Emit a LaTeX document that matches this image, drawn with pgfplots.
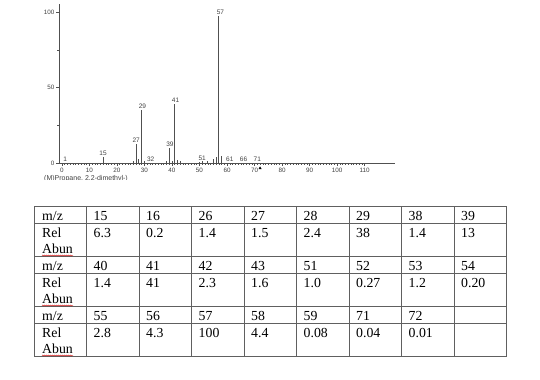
\documentclass[border=0pt]{standalone}
\usepackage{fontspec}
\setmainfont{Liberation Serif}
\setsansfont{Liberation Sans}
\usepackage{pgfplots}
\pgfplotsset{compat=1.18}
\usetikzlibrary{decorations.pathmorphing}
\definecolor{axcol}{HTML}{505050}
\definecolor{labcol}{HTML}{404040}
\definecolor{gridcol}{HTML}{606060}
\newcommand{\cell}[3]{\node[anchor=base west, inner sep=0pt, font=\fontsize{13.8bp}{16bp}\selectfont] at (#1,379-#2) {#3};}
\begin{document}
\begin{tikzpicture}[x=1bp,y=1bp]
\useasboundingbox (0,0) rectangle (540,379);
\begin{axis}[
  at={(59bp,216bp)}, anchor=south west,
  scale only axis, width=336bp, height=158.5bp,
  xmin=-1, xmax=121, ymin=0, ymax=105,
  axis x line=bottom, axis y line=left,
  axis line style={-, draw=axcol, line width=0.7pt},
  xtick={0,10,...,110}, minor x tick num=9,
  ytick={0,50,100}, minor y tick num=1,
  tick align=outside, major tick length=3bp, minor tick length=2bp,
  tick style={draw=axcol, line width=0.45pt},
  ticklabel style={font=\sffamily\fontsize{6.3bp}{7bp}\selectfont, text=labcol, inner sep=1.5pt},
  /pgf/number format/assume math mode=true,
  clip=false,
]
\addplot[ycomb, draw=axcol, line width=0.75pt, mark=none] table {
x y
15 4
16 0.3
26 1.4
27 12.6
28 2.4
29 35
30 1
38 1.4
39 10
40 1.4
41 39
42 2.3
43 1.6
50 0.5
51 1.0
52 0.3
53 1.2
54 0.3
55 2.8
56 4.3
57 97.5
58 4.4
59 0.3
};
\addplot[draw=none, mark=none, nodes near coords, point meta=explicit symbolic,
  nodes near coords style={font=\sffamily\fontsize{6.5bp}{7bp}\selectfont, text=labcol, anchor=south, inner sep=1pt}]
  table[meta=lab] {
x y lab
1.2 0 1
15 4 15
27 12.6 27
29.3 35 29
32.3 0 32
39.3 10 39
41.3 39 41
51 1 51
57.6 97.5 57
61 0 61
66 0 66
71 0 71
};
\addplot[only marks, mark=triangle*, mark size=1.4pt, draw=black, fill=black] coordinates {(72,-3.5)};
\end{axis}
\begin{scope}
\clip (40,379-179.5) rectangle (160,379-170);
\node[anchor=north west, inner sep=0pt, font=\sffamily\fontsize{7bp}{8bp}\selectfont, text=labcol] at (44,379-175) {(M)Propane, 2,2-dimethyl-)};
\end{scope}
% table grid
\foreach \yy in {206,223,256,273,306,323,356} {\draw[gridcol, line width=0.8pt] (34,379-\yy) -- (506.5,379-\yy);}
\foreach \i in {0,...,9} {\draw[gridcol, line width=0.8pt] (34+52.5*\i,379-206) -- (34+52.5*\i,379-356);}
% group 1
\cell{42}{220.5}{m/z}\cell{42}{237}{Rel}\cell{42}{253}{Abun}
\cell{93.5}{220.5}{15}\cell{146}{220.5}{16}\cell{198.5}{220.5}{26}\cell{251}{220.5}{27}\cell{303.5}{220.5}{28}\cell{356}{220.5}{29}\cell{408.5}{220.5}{38}\cell{461}{220.5}{39}
\cell{93.5}{237}{6.3}\cell{146}{237}{0.2}\cell{198.5}{237}{1.4}\cell{251}{237}{1.5}\cell{303.5}{237}{2.4}\cell{356}{237}{38}\cell{408.5}{237}{1.4}\cell{461}{237}{13}
% group 2
\cell{42}{270.5}{m/z}\cell{42}{287}{Rel}\cell{42}{303}{Abun}
\cell{93.5}{270.5}{40}\cell{146}{270.5}{41}\cell{198.5}{270.5}{42}\cell{251}{270.5}{43}\cell{303.5}{270.5}{51}\cell{356}{270.5}{52}\cell{408.5}{270.5}{53}\cell{461}{270.5}{54}
\cell{93.5}{287}{1.4}\cell{146}{287}{41}\cell{198.5}{287}{2.3}\cell{251}{287}{1.6}\cell{303.5}{287}{1.0}\cell{356}{287}{0.27}\cell{408.5}{287}{1.2}\cell{461}{287}{0.20}
% group 3
\cell{42}{320.5}{m/z}\cell{42}{337}{Rel}\cell{42}{353}{Abun}
\cell{93.5}{320.5}{55}\cell{146}{320.5}{56}\cell{198.5}{320.5}{57}\cell{251}{320.5}{58}\cell{303.5}{320.5}{59}\cell{356}{320.5}{71}\cell{408.5}{320.5}{72}
\cell{93.5}{337}{2.8}\cell{146}{337}{4.3}\cell{198.5}{337}{100}\cell{251}{337}{4.4}\cell{303.5}{337}{0.08}\cell{356}{337}{0.04}\cell{408.5}{337}{0.01}
% spell-check underlines
\foreach \yy in {255.5,305.5,355.5} {\draw[red!80!black, line width=0.4pt, decorate, decoration={snake, amplitude=0.5bp, segment length=2bp}] (42,379-\yy) -- (73,379-\yy);}
\end{tikzpicture}
\end{document}
